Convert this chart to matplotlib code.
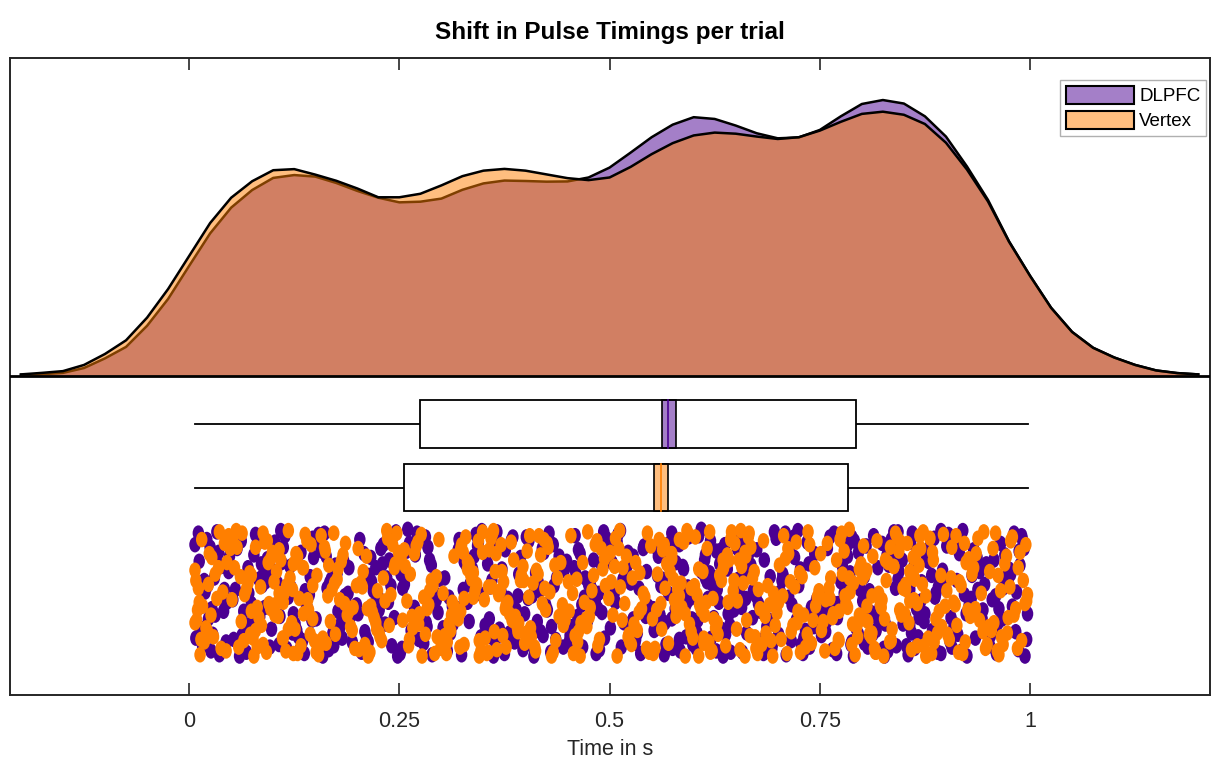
"""Raincloud plot: shift in pulse timings per trial (DLPFC vs Vertex)."""

import matplotlib
matplotlib.use("Agg")
import matplotlib.pyplot as plt
import numpy as np
from matplotlib.markers import MarkerStyle
from matplotlib.patches import Patch, Rectangle
from matplotlib.path import Path

plt.rcParams["font.family"] = ["Liberation Sans", "DejaVu Sans"]

GROUPS = ["DLPFC", "Vertex"]
COLORS = ["#4B0092", "#FF7F00"]

# kernel density
kde_x = [-0.200, -0.175, -0.150, -0.125, -0.100, -0.075, -0.050, -0.025, 0.000, 0.025,
         0.050, 0.075, 0.100, 0.125, 0.150, 0.175, 0.200, 0.225, 0.250, 0.275,
         0.300, 0.325, 0.350, 0.375, 0.400, 0.425, 0.450, 0.475, 0.500, 0.525,
         0.550, 0.575, 0.600, 0.625, 0.650, 0.675, 0.700, 0.725, 0.750, 0.775,
         0.800, 0.825, 0.850, 0.875, 0.900, 0.925, 0.950, 0.975, 1.000, 1.025,
         1.050, 1.075, 1.100, 1.125, 1.150, 1.175, 1.200]
kde_dlpfc = [0.005, 0.008, 0.014, 0.036, 0.080, 0.132, 0.228, 0.350, 0.500, 0.648,
             0.765, 0.845, 0.900, 0.913, 0.906, 0.877, 0.841, 0.810, 0.789, 0.792,
             0.806, 0.846, 0.875, 0.888, 0.886, 0.883, 0.884, 0.902, 0.947, 1.015,
             1.085, 1.142, 1.176, 1.168, 1.138, 1.103, 1.080, 1.084, 1.118, 1.180,
             1.236, 1.254, 1.238, 1.180, 1.088, 0.952, 0.800, 0.612, 0.455, 0.310,
             0.200, 0.128, 0.084, 0.050, 0.025, 0.013, 0.007]
kde_vertex = [0.007, 0.014, 0.022, 0.050, 0.100, 0.162, 0.265, 0.395, 0.545, 0.695,
              0.810, 0.885, 0.935, 0.940, 0.915, 0.887, 0.852, 0.812, 0.812, 0.828,
              0.866, 0.908, 0.933, 0.941, 0.933, 0.916, 0.899, 0.890, 0.902, 0.950,
              1.008, 1.058, 1.093, 1.106, 1.101, 1.088, 1.077, 1.085, 1.115, 1.155,
              1.191, 1.201, 1.187, 1.145, 1.060, 0.938, 0.793, 0.610, 0.455, 0.310,
              0.200, 0.128, 0.084, 0.050, 0.025, 0.013, 0.007]

# box plot summary
q1 = [0.275, 0.256]
q3 = [0.793, 0.784]
medians = [0.570, 0.561]
notch_lo = [0.562, 0.553]
notch_hi = [0.579, 0.570]
whisker_lo = [0.007, 0.007]
whisker_hi = [0.997, 0.997]

# raw trials: timing in ms, jitter level 0-99 within the rain band
dlpfc_ms = [
    7, 31, 18, 44, 12, 26, 39, 21, 9, 47, 15, 35, 28, 42, 11, 23, 38, 16, 45, 30, 8, 25, 41, 19, 33, 13, 48, 22, 36, 27,
    52, 77, 63, 91, 58, 84, 70, 96, 55, 81, 67, 88, 60, 74, 93, 53, 79, 65, 86, 71, 98, 57, 83, 68, 90, 62, 75, 94, 59, 87,
    103, 128, 114, 141, 107, 133, 121, 146, 110, 137, 118, 102, 130, 144, 124, 109, 139, 116, 148, 126, 105, 135, 112, 143, 120, 131, 108, 147, 123, 138,
    151, 174, 166, 189, 156, 182, 169, 197, 154, 179, 163, 186, 159, 176, 192, 153, 171, 164, 184, 172, 199, 158, 181, 167, 194, 161, 177, 190, 157, 185,
    203, 226, 214, 241, 208, 233, 219, 246, 211, 237, 222, 205, 231, 244, 217, 209, 238, 225, 248, 228, 201, 235, 213, 243, 220, 230, 207, 240, 224, 216,
    254, 279, 262, 290, 257, 283, 271, 296, 251, 286, 266, 292, 259, 275, 298, 253, 281, 268, 288, 273, 256, 284, 264, 294, 260, 277, 252, 289, 269, 282,
    302, 327, 313, 341, 306, 334, 320, 347, 309, 337, 316, 344, 324, 304, 331, 311, 339, 318, 348, 326, 301, 336, 314, 343, 322, 329, 307, 345, 321, 333,
    353, 378, 364, 392, 357, 385, 371, 397, 355, 381, 367, 389, 360, 375, 394, 352, 379, 366, 387, 372, 399, 358, 383, 369, 391, 362, 376, 395, 359, 386,
    403, 428, 414, 442, 407, 434, 420, 447, 410, 437, 418, 440, 424, 404, 431, 412, 445, 417, 449, 426, 401, 436, 415, 443, 422, 430, 408, 446, 421, 433,
    452, 477, 463, 491, 458, 484, 470, 496, 455, 481, 467, 488, 460, 474, 493, 453, 479, 465, 486, 471, 498, 457, 483, 468, 490, 462, 475, 494, 459, 487,
    503, 528, 514, 541, 506, 533, 519, 546, 510, 537, 522, 505, 531, 544, 517, 509, 538, 525, 548, 528, 501, 535, 513, 543, 520, 530, 507, 540, 524, 516,
    552, 577, 563, 591, 558, 584, 570, 596, 555, 581, 567, 588, 560, 574, 593, 553, 579, 565, 586, 571, 598, 557, 583, 568, 590, 562, 575, 594, 559, 587,
    603, 628, 614, 641, 606, 633, 619, 646, 610, 637, 622, 605, 631, 644, 617, 609, 638, 625, 648, 627, 601, 635, 613, 643, 620, 630, 607, 640, 624, 616,
    652, 677, 663, 691, 658, 684, 670, 696, 655, 681, 667, 688, 660, 674, 693, 653, 679, 665, 686, 671, 698, 657, 683, 668, 690, 662, 675, 694, 659, 687,
    703, 728, 714, 741, 706, 733, 719, 746, 710, 737, 722, 705, 731, 744, 717, 709, 738, 725, 748, 727, 701, 735, 713, 743, 720, 730, 707, 740, 724, 716,
    752, 777, 763, 791, 758, 784, 770, 796, 755, 781, 767, 788, 760, 774, 793, 753, 779, 765, 786, 771, 798, 757, 783, 768, 790, 762, 775, 794, 759, 787,
    803, 828, 814, 841, 806, 833, 819, 846, 810, 837, 822, 805, 831, 844, 817, 809, 838, 825, 848, 827, 801, 835, 813, 843, 820, 830, 807, 840, 824, 816,
    852, 877, 863, 891, 858, 884, 870, 896, 855, 881, 867, 888, 860, 874, 893, 853, 879, 865, 886, 871, 898, 857, 883, 868, 890, 862, 875, 894, 859, 887,
    903, 928, 914, 941, 906, 933, 919, 946, 910, 937, 922, 905, 931, 944, 917, 909, 938, 925, 948, 927, 901, 935, 913, 943, 920, 930, 907, 940, 924, 916,
    952, 977, 963, 991, 958, 984, 970, 996, 955, 981, 967, 988, 960, 974, 993, 953, 979, 965, 986, 971, 997, 957, 983, 968, 990, 962, 975, 994, 959, 987,
    561, 604, 583, 642, 571, 627, 592, 655, 566, 614, 599, 637, 578, 648, 588, 621, 609, 574, 633, 596,
    772, 836, 803, 871, 788, 849, 819, 894, 779, 862, 811, 843, 796, 883, 826, 857, 783, 868, 832, 808,
]
dlpfc_jit = [
    12, 67, 40, 88, 25, 95, 54, 8, 73, 33, 60, 18, 82, 47, 3, 70, 29, 91, 57, 38, 85, 14, 64, 49, 2, 77, 21, 44, 98, 62,
    55, 20, 83, 41, 6, 68, 30, 92, 47, 11, 75, 36, 99, 58, 23, 86, 4, 64, 27, 50, 78, 15, 39, 96, 61, 9, 72, 33, 88, 44,
    33, 79, 5, 62, 90, 18, 45, 71, 26, 97, 53, 10, 84, 37, 66, 1, 58, 93, 22, 74, 42, 87, 14, 51, 29, 95, 68, 7, 81, 48,
    70, 28, 94, 50, 13, 85, 39, 62, 4, 77, 21, 56, 99, 34, 68, 9, 81, 46, 25, 91, 59, 17, 73, 42, 88, 3, 64, 30, 97, 52,
    8, 63, 36, 91, 19, 74, 48, 2, 85, 57, 30, 96, 12, 69, 41, 80, 24, 53, 99, 15, 66, 38, 88, 5, 59, 27, 94, 44, 71, 22,
    46, 89, 11, 58, 32, 76, 3, 65, 97, 24, 82, 50, 17, 71, 39, 93, 6, 61, 28, 86, 43, 14, 79, 55, 0, 68, 35, 98, 20, 73,
    77, 25, 60, 4, 92, 43, 16, 84, 53, 31, 69, 10, 98, 38, 57, 81, 21, 66, 1, 47, 89, 34, 74, 13, 62, 27, 95, 50, 8, 72,
    19, 58, 87, 35, 70, 6, 49, 94, 27, 81, 13, 63, 40, 97, 22, 75, 54, 2, 88, 31, 66, 45, 9, 78, 52, 99, 16, 37, 84, 60,
    54, 3, 72, 28, 90, 44, 15, 67, 99, 38, 80, 21, 59, 9, 76, 34, 92, 48, 25, 63, 6, 86, 41, 70, 18, 96, 52, 32, 83, 12,
    88, 41, 16, 65, 30, 97, 53, 7, 76, 24, 59, 94, 35, 71, 2, 83, 47, 19, 62, 38, 10, 79, 56, 92, 27, 68, 43, 85, 5, 50,
    26, 70, 92, 13, 49, 81, 37, 60, 4, 97, 18, 55, 86, 33, 73, 10, 64, 42, 95, 21, 77, 46, 1, 68, 30, 89, 57, 15, 83, 39,
    62, 8, 39, 84, 21, 95, 50, 73, 14, 57, 90, 31, 67, 3, 45, 79, 26, 98, 52, 11, 70, 36, 86, 18, 60, 44, 93, 6, 77, 29,
    93, 47, 20, 66, 5, 78, 34, 59, 88, 12, 43, 71, 27, 96, 54, 0, 82, 38, 63, 17, 50, 99, 24, 75, 9, 57, 85, 31, 69, 41,
    15, 58, 81, 37, 96, 24, 69, 2, 45, 87, 30, 74, 11, 52, 93, 39, 64, 20, 83, 48, 7, 61, 97, 28, 71, 54, 16, 89, 35, 76,
    49, 90, 14, 63, 35, 79, 6, 55, 98, 27, 71, 40, 85, 19, 59, 3, 92, 44, 67, 31, 82, 10, 53, 76, 22, 97, 38, 61, 1, 87,
    83, 29, 56, 9, 72, 44, 97, 18, 64, 38, 3, 88, 51, 25, 77, 60, 12, 94, 34, 69, 47, 80, 21, 58, 99, 6, 41, 74, 15, 90,
    37, 74, 5, 91, 52, 18, 66, 43, 86, 27, 60, 13, 95, 33, 79, 48, 2, 71, 24, 99, 56, 8, 82, 39, 64, 20, 92, 46, 11, 68,
    68, 21, 93, 45, 10, 79, 56, 32, 98, 14, 84, 50, 3, 72, 38, 91, 25, 62, 7, 87, 42, 75, 18, 59, 96, 29, 66, 1, 81, 53,
    4, 57, 82, 30, 69, 16, 95, 43, 74, 22, 51, 88, 36, 63, 9, 78, 47, 99, 27, 61, 13, 85, 40, 70, 1, 54, 92, 33, 66, 19,
    91, 35, 62, 8, 77, 49, 20, 86, 55, 3, 70, 28, 97, 42, 15, 83, 60, 11, 94, 38, 66, 24, 80, 46, 5, 73, 31, 99, 52, 17,
    44, 81, 12, 66, 29, 95, 57, 3, 73, 38, 90, 21, 62, 8, 49, 85, 33, 70, 16, 54,
    58, 17, 89, 41, 6, 74, 30, 97, 50, 23, 65, 2, 82, 36, 93, 47, 12, 69, 28, 86,
]
vertex_ms = [
    9, 24, 11, 38, 47, 16, 29, 7, 42, 20, 33, 13, 45, 26, 8, 36, 18, 49, 10, 31, 22, 40, 15, 7, 27, 44, 12, 35, 14, 23,
    52, 74, 61, 88, 97, 66, 79, 57, 92, 70, 83, 63, 95, 76, 54, 86, 68, 99, 59, 81, 72, 90, 65, 51, 77, 94, 62, 85, 56, 73,
    102, 124, 111, 138, 147, 116, 129, 107, 142, 120, 133, 113, 145, 126, 104, 136, 118, 149, 109, 131, 122, 140, 115, 101, 127, 144, 112, 135, 106, 123,
    152, 174, 161, 188, 197, 166, 179, 157, 192, 170, 183, 163, 195, 176, 154, 186, 168, 199, 159, 181, 172, 190, 165, 151, 177, 194, 162, 185, 156, 173,
    202, 224, 211, 238, 247, 216, 229, 207, 242, 220, 233, 213, 245, 226, 204, 236, 218, 249, 209, 231, 222, 240, 215, 201, 227, 244, 212, 235, 206, 223,
    252, 274, 261, 288, 297, 266, 279, 257, 292, 270, 283, 263, 295, 276, 254, 286, 268, 299, 259, 281, 272, 290, 265, 251, 277, 294, 262, 285, 256, 273,
    302, 324, 311, 338, 347, 316, 329, 307, 342, 320, 333, 313, 345, 326, 304, 336, 318, 349, 309, 331, 322, 340, 315, 301, 327, 344, 312, 335, 306, 323,
    352, 374, 361, 388, 397, 366, 379, 357, 392, 370, 383, 363, 395, 376, 354, 386, 368, 399, 359, 381, 372, 390, 365, 351, 377, 394, 362, 385, 356, 373,
    402, 424, 411, 438, 447, 416, 429, 407, 442, 420, 433, 413, 445, 426, 404, 436, 418, 449, 409, 431, 422, 440, 415, 401, 427, 444, 412, 435, 406, 423,
    452, 474, 461, 488, 497, 466, 479, 457, 492, 470, 483, 463, 495, 476, 454, 486, 468, 499, 459, 481, 472, 490, 465, 451, 477, 494, 462, 485, 456, 473,
    502, 524, 511, 538, 547, 516, 529, 507, 542, 520, 533, 513, 545, 526, 504, 536, 518, 549, 509, 531, 522, 540, 515, 501, 527, 544, 512, 535, 506, 523,
    552, 574, 561, 588, 597, 566, 579, 557, 592, 570, 583, 563, 595, 576, 554, 586, 568, 599, 559, 581, 572, 590, 565, 551, 577, 594, 562, 585, 556, 573,
    602, 624, 611, 638, 647, 616, 629, 607, 642, 620, 633, 613, 645, 626, 604, 636, 618, 649, 609, 631, 622, 640, 615, 601, 627, 644, 612, 635, 606, 623,
    652, 674, 661, 688, 697, 666, 679, 657, 692, 670, 683, 663, 695, 676, 654, 686, 668, 699, 659, 681, 672, 690, 665, 651, 677, 694, 662, 685, 656, 673,
    702, 724, 711, 738, 747, 716, 729, 707, 742, 720, 733, 713, 745, 726, 704, 736, 718, 749, 709, 731, 722, 740, 715, 701, 727, 744, 712, 735, 706, 723,
    752, 774, 761, 788, 797, 766, 779, 757, 792, 770, 783, 763, 795, 776, 754, 786, 768, 799, 759, 781, 772, 790, 765, 751, 777, 794, 762, 785, 756, 773,
    802, 824, 811, 838, 847, 816, 829, 807, 842, 820, 833, 813, 845, 826, 804, 836, 818, 849, 809, 831, 822, 840, 815, 801, 827, 844, 812, 835, 806, 823,
    852, 874, 861, 888, 897, 866, 879, 857, 892, 870, 883, 863, 895, 876, 854, 886, 868, 899, 859, 881, 872, 890, 865, 851, 877, 894, 862, 885, 856, 873,
    902, 924, 911, 938, 947, 916, 929, 907, 942, 920, 933, 913, 945, 926, 904, 936, 918, 949, 909, 931, 922, 940, 915, 901, 927, 944, 912, 935, 906, 923,
    952, 974, 961, 988, 997, 966, 979, 957, 992, 970, 983, 963, 995, 976, 954, 986, 968, 996, 959, 981, 972, 990, 965, 951, 977, 994, 962, 985, 956, 973,
    74, 118, 93, 141, 81, 129, 102, 147, 88, 112, 136, 97, 124, 79, 107,
    323, 371, 345, 398, 331, 384, 356, 405, 338, 364, 391, 349, 377, 327, 360,
    574, 628, 597, 655, 583, 641, 606, 667, 590, 619, 648, 612, 635, 579, 661,
    773, 838, 806, 869, 789, 852, 817, 884, 780, 861, 812, 846, 797, 876, 828, 857, 785, 866, 834, 801,
]
vertex_jit = [
    71, 19, 46, 93, 5, 60, 84, 32, 11, 77, 54, 98, 26, 67, 40, 2, 88, 15, 63, 35, 80, 49, 8, 73, 22, 95, 57, 30, 86, 43,
    8, 64, 37, 90, 23, 51, 79, 14, 96, 42, 69, 3, 58, 85, 30, 75, 47, 18, 92, 61, 34, 10, 87, 55, 99, 26, 72, 45, 1, 82,
    59, 27, 85, 4, 70, 44, 97, 16, 63, 38, 91, 50, 12, 78, 33, 66, 1, 87, 24, 54, 73, 9, 95, 41, 19, 82, 57, 30, 68, 47,
    36, 82, 14, 67, 93, 28, 55, 5, 76, 47, 20, 89, 61, 39, 98, 11, 72, 44, 85, 25, 3, 64, 52, 96, 31, 79, 17, 58, 90, 42,
    94, 48, 21, 75, 3, 60, 87, 33, 12, 69, 56, 99, 27, 81, 42, 7, 65, 18, 90, 38, 73, 51, 96, 15, 84, 30, 62, 1, 45, 78,
    22, 66, 91, 40, 8, 77, 53, 29, 97, 13, 62, 35, 84, 4, 71, 48, 19, 93, 56, 82, 10, 44, 68, 25, 99, 37, 86, 59, 16, 74,
    50, 12, 79, 34, 95, 61, 6, 88, 43, 70, 27, 57, 99, 18, 83, 39, 65, 2, 74, 31, 92, 48, 21, 85, 54, 9, 67, 36, 97, 15,
    85, 41, 3, 68, 29, 94, 57, 16, 73, 48, 10, 80, 36, 62, 97, 24, 51, 89, 7, 66, 33, 76, 19, 55, 92, 40, 1, 71, 45, 83,
    17, 63, 92, 38, 71, 5, 49, 84, 26, 58, 96, 32, 75, 11, 53, 87, 20, 64, 42, 99, 8, 68, 35, 81, 14, 59, 95, 28, 77, 46,
    64, 2, 39, 86, 20, 73, 48, 97, 31, 57, 12, 80, 44, 68, 5, 91, 26, 54, 83, 36, 70, 15, 99, 41, 61, 23, 88, 9, 50, 76,
    41, 88, 15, 62, 96, 30, 74, 7, 53, 21, 79, 45, 3, 90, 67, 34, 58, 13, 99, 26, 84, 50, 71, 18, 38, 93, 1, 65, 29, 82,
    97, 23, 58, 10, 80, 46, 68, 35, 1, 89, 52, 16, 74, 39, 93, 61, 27, 85, 8, 47, 33, 99, 12, 70, 55, 4, 78, 42, 63, 19,
    6, 70, 33, 91, 48, 15, 82, 59, 24, 96, 40, 67, 2, 77, 51, 29, 88, 11, 63, 36, 95, 20, 57, 44, 73, 8, 85, 31, 99, 54,
    56, 93, 18, 44, 75, 3, 62, 29, 87, 38, 9, 71, 50, 97, 24, 81, 14, 65, 42, 90, 33, 59, 6, 78, 47, 99, 21, 68, 1, 84,
    28, 64, 97, 12, 53, 80, 37, 5, 71, 45, 92, 19, 60, 34, 86, 2, 75, 48, 23, 67, 10, 89, 41, 57, 96, 30, 15, 82, 52, 73,
    79, 8, 46, 90, 31, 66, 17, 55, 98, 24, 61, 38, 84, 3, 72, 49, 93, 27, 11, 58, 86, 42, 69, 19, 35, 76, 54, 0, 95, 64,
    13, 55, 84, 29, 67, 96, 40, 72, 6, 50, 88, 21, 63, 99, 35, 78, 9, 46, 82, 26, 59, 3, 93, 38, 70, 17, 52, 87, 32, 61,
    47, 91, 22, 70, 4, 58, 85, 33, 64, 15, 97, 39, 76, 52, 11, 88, 28, 60, 94, 7, 43, 81, 18, 66, 99, 36, 55, 24, 73, 2,
    82, 26, 59, 7, 93, 41, 68, 14, 50, 97, 30, 75, 2, 63, 86, 19, 44, 90, 57, 35, 11, 71, 96, 48, 23, 80, 5, 62, 38, 88,
    33, 69, 95, 18, 51, 84, 6, 73, 40, 27, 62, 98, 12, 45, 79, 30, 90, 56, 3, 67, 21, 87, 48, 76, 9, 58, 36, 93, 15, 81,
    36, 78, 9, 55, 92, 21, 67, 44, 3, 85, 30, 62, 97, 14, 50,
    64, 12, 87, 40, 25, 71, 96, 5, 53, 33, 80, 18, 59, 90, 45,
    19, 73, 46, 94, 8, 57, 31, 83, 66, 2, 40, 89, 24, 61, 99,
    87, 29, 60, 5, 74, 43, 96, 18, 52, 35, 81, 10, 67, 99, 24, 56, 38, 91, 14, 70,
]

# layout (data units on the shared y axis)
BOX_CENTERS = [-0.218, -0.508]
BOX_HALF = 0.108
RAIN_TOP, RAIN_BOTTOM = -0.697, -1.273


def ellipse_marker(aspect: float = 0.74) -> MarkerStyle:
    circle = Path.unit_circle()
    verts = circle.vertices * np.array([aspect, 1.0])
    return MarkerStyle(Path(verts, circle.codes))


fig = plt.figure(figsize=(12.19, 7.62), dpi=100)
ax = fig.add_axes([10 / 1219, 67 / 762, 1200 / 1219, 637 / 762])

densities = [kde_dlpfc, kde_vertex]
for color, dens in zip(COLORS, densities):
    ax.fill_between(kde_x, 0, dens, facecolor=color, alpha=0.5, linewidth=0, zorder=2)
    ax.plot(kde_x, dens, color="black", linewidth=1.8, zorder=2)
ax.axhline(0, color="black", linewidth=2.0, zorder=3)

for i, color in enumerate(COLORS):
    yc = BOX_CENTERS[i]
    ax.plot([whisker_lo[i], q1[i]], [yc, yc], color="black", linewidth=1.3, zorder=3)
    ax.plot([q3[i], whisker_hi[i]], [yc, yc], color="black", linewidth=1.3, zorder=3)
    ax.add_patch(Rectangle((q1[i], yc - BOX_HALF), q3[i] - q1[i], 2 * BOX_HALF,
                           facecolor="white", edgecolor="black", linewidth=1.3, zorder=3))
    ax.add_patch(Rectangle((notch_lo[i], yc - BOX_HALF), notch_hi[i] - notch_lo[i], 2 * BOX_HALF,
                           facecolor=color, alpha=0.5, edgecolor="none", zorder=4))
    ax.add_patch(Rectangle((notch_lo[i], yc - BOX_HALF), notch_hi[i] - notch_lo[i], 2 * BOX_HALF,
                           facecolor="none", edgecolor="black", linewidth=1.2, zorder=5))
    ax.plot([medians[i], medians[i]], [yc - BOX_HALF, yc + BOX_HALF], color=color,
            linewidth=1.2, zorder=5)

marker = ellipse_marker()
for color, ms, jit in ((COLORS[0], dlpfc_ms, dlpfc_jit), (COLORS[1], vertex_ms, vertex_jit)):
    t = np.asarray(ms, dtype=float) / 1000.0
    y = RAIN_TOP + (RAIN_BOTTOM - RAIN_TOP) * np.asarray(jit, dtype=float) / 99.0
    ax.scatter(t, y, s=125, marker=marker, color=color, edgecolors="none", zorder=3)

ax.set_xlim(-0.213, 1.214)
ax.set_ylim(-1.45, 1.445)
ax.set_yticks([])
ax.set_xticks([0, 0.25, 0.5, 0.75, 1])
ax.set_xticklabels(["0", "0.25", "0.5", "0.75", "1"])
ax.tick_params(axis="x", direction="in", length=8.5, width=1.2, top=True,
               labelsize=15.5, pad=11.5, colors="#262626")
for spine in ax.spines.values():
    spine.set_color("#262626")
    spine.set_linewidth(1.4)
ax.set_xlabel("Time in s", fontsize=15.5, color="#262626", labelpad=5)
ax.set_title("Shift in Pulse Timings per trial", fontsize=17.5, fontweight="bold", pad=14)

handles = [Patch(facecolor=(*matplotlib.colors.to_rgb(c), 0.5), edgecolor="black",
                 linewidth=1.5, label=g) for g, c in zip(GROUPS, COLORS)]
ax.legend(handles=handles, loc="upper right", bbox_to_anchor=(0.9967, 0.9655),
          borderaxespad=0, fontsize=13.5, handlelength=3.6, handleheight=1.12,
          handletextpad=0.3, labelspacing=0.3, borderpad=0.3, fancybox=False,
          framealpha=1, edgecolor="#b0b0b0")

fig.savefig("out.png", dpi=100)
